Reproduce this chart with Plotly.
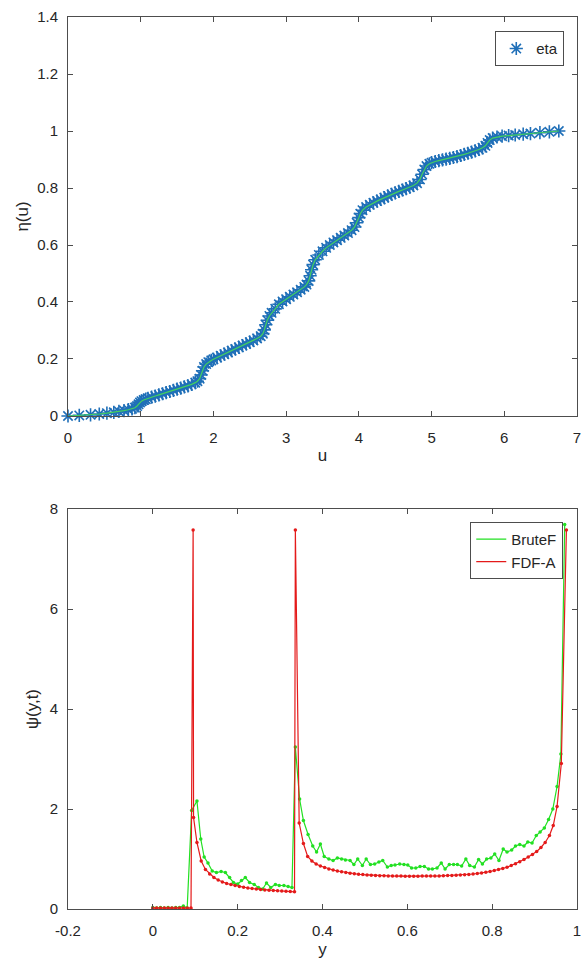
import plotly.graph_objects as go

# ---------------- top panel data: eta(u) ----------------
u_vals = [0, 0.155, 0.31, 0.43, 0.535, 0.63, 0.70, 0.77, 0.83, 0.88, 0.92, 0.95, 0.97, 0.99,
          1.01, 1.04, 1.07, 1.10, 1.15, 1.20, 1.25, 1.30, 1.35, 1.40, 1.45, 1.50, 1.55, 1.60,
          1.65, 1.70, 1.75, 1.78, 1.81, 1.83, 1.85, 1.87, 1.90, 1.93, 1.97, 2.00, 2.05, 2.10,
          2.15, 2.20, 2.25, 2.30, 2.35, 2.40, 2.45, 2.50, 2.55, 2.60, 2.65, 2.68, 2.70, 2.72,
          2.74, 2.77, 2.80, 2.85, 2.90, 2.95, 3.00, 3.05, 3.10, 3.15, 3.20, 3.25, 3.28, 3.31,
          3.33, 3.35, 3.37, 3.40, 3.45, 3.50, 3.55, 3.60, 3.65, 3.70, 3.75, 3.80, 3.85, 3.90,
          3.94, 3.97, 4.00, 4.02, 4.05, 4.10, 4.15, 4.20, 4.25, 4.30, 4.35, 4.40, 4.45, 4.50,
          4.55, 4.60, 4.65, 4.70, 4.75, 4.80, 4.84, 4.87, 4.90, 4.93, 4.97, 5.00, 5.05, 5.10,
          5.15, 5.20, 5.25, 5.30, 5.35, 5.40, 5.45, 5.50, 5.55, 5.60, 5.65, 5.70, 5.74, 5.77,
          5.80, 5.84, 5.90, 5.97, 6.06, 6.15, 6.26, 6.36, 6.49, 6.62, 6.75]
eta_vals = [0, 0.002, 0.004, 0.007, 0.010, 0.013, 0.016, 0.019, 0.022, 0.025, 0.029, 0.035, 0.041, 0.047,
            0.052, 0.056, 0.059, 0.062, 0.066, 0.070, 0.074, 0.078, 0.082, 0.086, 0.090, 0.094, 0.098, 0.102,
            0.106, 0.111, 0.117, 0.122, 0.131, 0.144, 0.159, 0.172, 0.182, 0.189, 0.195, 0.199, 0.205, 0.211,
            0.217, 0.223, 0.229, 0.235, 0.241, 0.247, 0.253, 0.259, 0.265, 0.272, 0.280, 0.289, 0.302, 0.320,
            0.336, 0.351, 0.362, 0.376, 0.392, 0.402, 0.410, 0.418, 0.426, 0.434, 0.443, 0.453, 0.461, 0.474,
            0.492, 0.513, 0.531, 0.548, 0.565, 0.578, 0.590, 0.600, 0.609, 0.617, 0.625, 0.633, 0.642, 0.652,
            0.663, 0.678, 0.696, 0.710, 0.722, 0.733, 0.741, 0.748, 0.754, 0.760, 0.766, 0.772, 0.778, 0.783,
            0.788, 0.793, 0.798, 0.803, 0.809, 0.817, 0.830, 0.848, 0.865, 0.877, 0.885, 0.889, 0.893, 0.896,
            0.899, 0.901, 0.904, 0.907, 0.910, 0.914, 0.918, 0.922, 0.926, 0.930, 0.935, 0.941, 0.948, 0.958,
            0.968, 0.975, 0.979, 0.982, 0.984, 0.986, 0.989, 0.991, 0.994, 0.997, 1.0]

top_xticks = [0, 1, 2, 3, 4, 5, 6, 7]
top_yticks = [0, 0.2, 0.4, 0.6, 0.8, 1.0, 1.2, 1.4]
top_yticklabels = ["0", "0.2", "0.4", "0.6", "0.8", "1", "1.2", "1.4"]

# ---------------- bottom panel data: psi(y,t) ----------------
brute_y = [0, 0.009, 0.018, 0.027, 0.036, 0.045, 0.054, 0.063, 0.072, 0.081, 0.0915, 0.104,
           0.113, 0.121, 0.130, 0.140, 0.150, 0.161, 0.171, 0.181, 0.190, 0.200, 0.209, 0.218,
           0.228, 0.239, 0.249, 0.259, 0.268, 0.278, 0.289, 0.298, 0.309, 0.319, 0.328, 0.336,
           0.346, 0.355, 0.366, 0.377, 0.386, 0.395, 0.404, 0.415, 0.425, 0.435, 0.445, 0.454,
           0.465, 0.474, 0.483, 0.494, 0.503, 0.513, 0.523, 0.533, 0.542, 0.553, 0.562, 0.571,
           0.582, 0.592, 0.601, 0.610, 0.620, 0.630, 0.640, 0.650, 0.659, 0.670, 0.680, 0.689,
           0.699, 0.709, 0.718, 0.728, 0.738, 0.747, 0.758, 0.768, 0.777, 0.787, 0.797, 0.806,
           0.816, 0.826, 0.835, 0.846, 0.855, 0.865, 0.875, 0.884, 0.894, 0.904, 0.913, 0.923,
           0.933, 0.943, 0.953, 0.962, 0.971]
brute_psi = [0.03, 0.02, 0.03, 0.02, 0.03, 0.02, 0.03, 0.03, 0.06, 0.02, 1.97, 2.16,
             1.40, 1.04, 0.92, 0.76, 0.73, 0.75, 0.73, 0.63, 0.53, 0.50, 0.57, 0.63,
             0.53, 0.49, 0.43, 0.40, 0.52, 0.43, 0.49, 0.47, 0.47, 0.45, 0.43, 3.24,
             2.20, 1.77, 1.49, 1.26, 1.14, 1.30, 1.05, 1.00, 0.97, 1.02, 1.00, 0.98,
             0.97, 0.89, 1.00, 0.87, 1.00, 0.89, 0.90, 0.94, 0.97, 0.84, 0.87, 0.88,
             0.90, 0.89, 0.88, 0.82, 0.82, 0.85, 0.85, 0.80, 0.80, 0.82, 0.92, 0.80,
             0.89, 0.89, 0.89, 0.86, 1.00, 0.87, 0.84, 0.99, 0.90, 1.00, 1.02, 1.10,
             0.97, 1.20, 1.14, 1.18, 1.26, 1.29, 1.26, 1.34, 1.32, 1.47, 1.54, 1.62,
             1.79, 2.00, 2.45, 3.10, 7.69]

fdf_y = [0, 0.009, 0.018, 0.027, 0.036, 0.045, 0.054, 0.063, 0.072, 0.081, 0.090, 0.095, 0.096,
         0.104, 0.114, 0.124, 0.134, 0.144, 0.154, 0.164, 0.174, 0.184, 0.194, 0.204, 0.214,
         0.224, 0.234, 0.244, 0.254, 0.264, 0.274, 0.284, 0.294, 0.304, 0.314, 0.324, 0.334,
         0.336, 0.345, 0.355, 0.365, 0.375, 0.385, 0.395, 0.405, 0.415, 0.425, 0.435, 0.445,
         0.455, 0.465, 0.475, 0.485, 0.495, 0.505, 0.515, 0.525, 0.535, 0.545, 0.555, 0.565,
         0.575, 0.585, 0.595, 0.605, 0.615, 0.625, 0.635, 0.645, 0.655, 0.665, 0.675, 0.685,
         0.695, 0.705, 0.715, 0.725, 0.735, 0.745, 0.755, 0.765, 0.775, 0.785, 0.795, 0.805,
         0.815, 0.825, 0.835, 0.845, 0.855, 0.865, 0.875, 0.885, 0.895, 0.905, 0.915, 0.925,
         0.935, 0.944, 0.953, 0.963, 0.975]
fdf_psi = [0.02, 0.02, 0.02, 0.02, 0.02, 0.02, 0.02, 0.02, 0.02, 0.02, 0.02, 7.58, 1.83,
           1.33, 0.96, 0.79, 0.70, 0.63, 0.58, 0.54, 0.51, 0.49, 0.47, 0.45, 0.435,
           0.42, 0.41, 0.40, 0.39, 0.38, 0.375, 0.37, 0.365, 0.36, 0.355, 0.35, 0.345,
           7.58, 1.72, 1.31, 1.05, 0.96, 0.90, 0.86, 0.83, 0.80, 0.78, 0.76, 0.745,
           0.73, 0.715, 0.705, 0.695, 0.688, 0.682, 0.676, 0.671, 0.667, 0.664, 0.662, 0.660,
           0.659, 0.658, 0.657, 0.657, 0.657, 0.657, 0.658, 0.659, 0.660, 0.661, 0.662, 0.665,
           0.668, 0.672, 0.676, 0.680, 0.685, 0.690, 0.700, 0.710, 0.720, 0.735, 0.750, 0.770,
           0.790, 0.810, 0.835, 0.870, 0.905, 0.945, 0.990, 1.04, 1.09, 1.15, 1.23, 1.33,
           1.47, 1.67, 2.05, 2.91, 7.58]

bot_xticks = [-0.2, 0, 0.2, 0.4, 0.6, 0.8, 1.0]
bot_xticklabels = ["-0.2", "0", "0.2", "0.4", "0.6", "0.8", "1"]
bot_yticks = [0, 2, 4, 6, 8]

# ---------------- figure ----------------
BLUE = "#1f6fb8"
TOPGREEN = "#44d060"
GREEN = "#22e022"
RED = "#e41a1a"
AXC = "#4d4d4d"
TXT = "#262626"

fig = go.Figure()
fig.add_trace(go.Scatter(x=u_vals, y=eta_vals, mode="markers", name="eta", cliponaxis=False,
                         marker=dict(symbol="asterisk-open", size=11, color=BLUE,
                                     line=dict(color=BLUE, width=1.6)),
                         xaxis="x", yaxis="y", legend="legend"))
fig.add_trace(go.Scatter(x=u_vals, y=eta_vals, mode="lines", showlegend=False,
                         line=dict(color=TOPGREEN, width=1.2), xaxis="x", yaxis="y"))

fig.add_trace(go.Scatter(x=brute_y, y=brute_psi, mode="lines", name="BruteF",
                         line=dict(color=GREEN, width=1.2), xaxis="x2", yaxis="y2", legend="legend2"))
fig.add_trace(go.Scatter(x=brute_y, y=brute_psi, mode="markers", showlegend=False,
                         marker=dict(color=GREEN, size=3.5), xaxis="x2", yaxis="y2"))
fig.add_trace(go.Scatter(x=fdf_y, y=fdf_psi, mode="lines", name="FDF-A",
                         line=dict(color=RED, width=1.2), xaxis="x2", yaxis="y2", legend="legend2"))
fig.add_trace(go.Scatter(x=fdf_y, y=fdf_psi, mode="markers", showlegend=False,
                         marker=dict(color=RED, size=3.5), xaxis="x2", yaxis="y2"))

axis_common = dict(showline=True, linecolor=AXC, linewidth=1, mirror="ticks",
                   ticks="inside", ticklen=5, tickcolor=AXC, showgrid=False, zeroline=False,
                   automargin=False, tickfont=dict(size=15, color=TXT))

fig.update_layout(
    width=584, height=959,
    margin=dict(l=68, r=7, t=17, b=50, autoexpand=False),
    paper_bgcolor="white", plot_bgcolor="white",
    font=dict(family="Liberation Sans, Arial, sans-serif", size=14, color=TXT),
    xaxis=dict(domain=[0, 1], anchor="y", range=[0, 7], tickvals=top_xticks,
               ticklabelstandoff=8,
               title=dict(text="u", font=dict(size=17), standoff=4), **axis_common),
    yaxis=dict(domain=[0.5527, 1], anchor="x", range=[0, 1.4], tickvals=top_yticks,
               ticktext=top_yticklabels, ticklabelstandoff=6,
               title=dict(text="η(u)", font=dict(size=17), standoff=4), **axis_common),
    xaxis2=dict(domain=[0, 1], anchor="y2", range=[-0.2, 1], tickvals=bot_xticks,
                ticktext=bot_xticklabels, ticklabelstandoff=8,
                title=dict(text="y", font=dict(size=17), standoff=6), **axis_common),
    yaxis2=dict(domain=[0, 0.4484], anchor="x2", range=[0, 8], tickvals=bot_yticks,
                ticklabelstandoff=6,
                title=dict(text="ψ(y,t)", font=dict(size=17), standoff=6), **axis_common),
    legend=dict(x=0.975, y=0.984, xanchor="right", yanchor="top", bgcolor="white",
                bordercolor=AXC, borderwidth=1, font=dict(size=15, color=TXT)),
    legend2=dict(x=0.973, y=0.4339, xanchor="right", yanchor="top", bgcolor="white",
                 bordercolor=AXC, borderwidth=1, font=dict(size=15, color=TXT)),
)

fig.write_html("out.html")
